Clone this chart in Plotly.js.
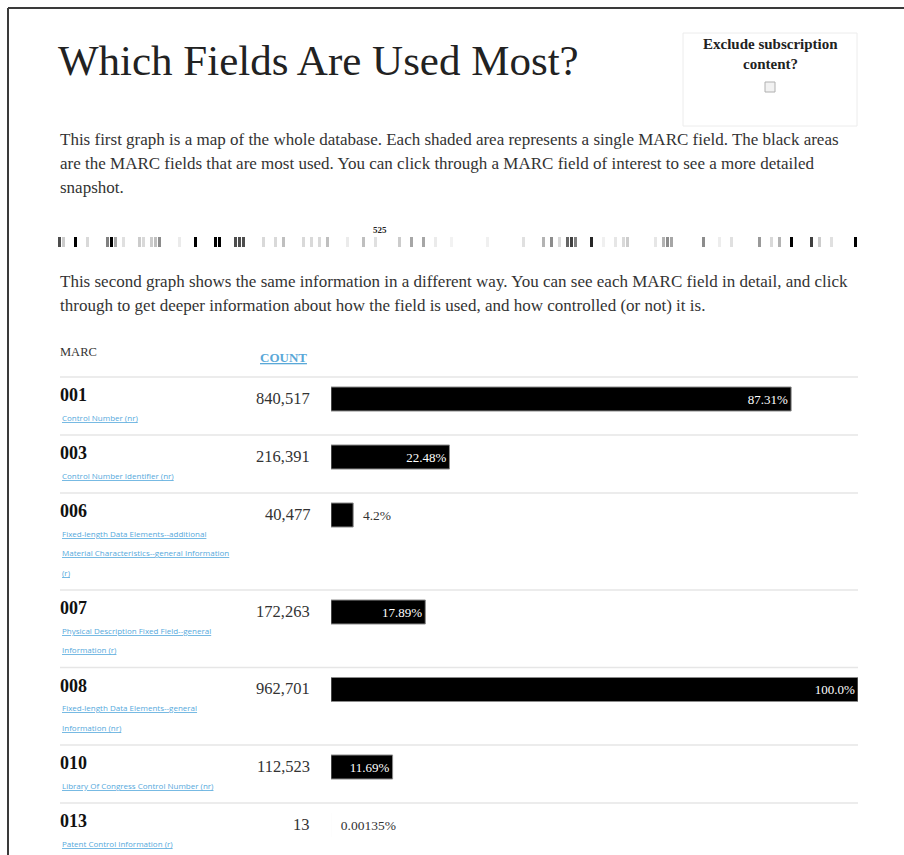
<!DOCTYPE html>
<html><head><meta charset="utf-8">
<script src="https://cdn.plot.ly/plotly-3.0.1.min.js"></script>
<style>html,body{margin:0;padding:0;background:#fff;} #chart{width:904px;height:855px;}</style>
</head><body><div id="chart"></div>
<script>
// ---------- data ----------
const pageTitle = 'Which Fields Are Used Most?';
const introLines = [
  'This first graph is a map of the whole database. Each shaded area represents a single MARC field. The black areas',
  'are the MARC fields that are most used. You can click through a MARC field of interest to see a more detailed',
  'snapshot.'
];
const secondLines = [
  'This second graph shows the same information in a different way. You can see each MARC field in detail, and click',
  'through to get deeper information about how the field is used, and how controlled (or not) it is.'
];
const filterLabel = ['Exclude subscription', 'content?'];
const stripHoverLabel = '525';
const stripCellCount = 200;
const stripCells  = [0, 1, 4, 7, 12, 13, 14, 16, 20, 21, 23, 24, 25, 30, 34, 39, 40, 44, 45, 46,
                     51, 54, 56, 61, 63, 65, 67, 72, 76, 79, 85, 88, 91, 94, 98, 107, 116, 121, 123, 125,
                     127, 128, 129, 133, 136, 139, 141, 142, 149, 151, 152, 153, 161, 165, 168, 175, 178, 180, 183, 188,
                     190, 193, 199];
const stripShades = [0.7, 0.2, 1.0, 0.15, 0.5, 1.0, 0.35, 0.12, 0.2, 0.15, 0.2, 0.25, 0.45, 0.08, 1.0, 1.0, 1.0, 0.7, 0.7, 0.7,
                     0.15, 0.15, 0.25, 0.15, 0.15, 0.15, 0.25, 0.08, 0.25, 0.12, 0.2, 0.35, 0.35, 0.08, 0.05, 0.06, 0.12, 0.3, 0.45, 0.15,
                     0.6, 0.75, 0.5, 0.85, 0.06, 0.1, 0.15, 0.2, 0.1, 0.3, 0.45, 0.35, 0.45, 0.07, 0.12, 0.4, 0.15, 0.3, 1.0, 0.75,
                     0.2, 0.12, 1.0];
const headerMarc = 'MARC';
const headerCount = 'COUNT';
const codes = ['001', '003', '006', '007', '008', '010', '013'];
const names = [
  'Control Number (nr)',
  'Control Number Identifier (nr)',
  'Fixed-length Data Elements--additional Material Characteristics--general Information (r)',
  'Physical Description Fixed Field--general Information (r)',
  'Fixed-length Data Elements--general Information (nr)',
  'Library Of Congress Control Number (nr)',
  'Patent Control Information (r)'
];
const counts = [840517, 216391, 40477, 172263, 962701, 112523, 13];
const pctLabels = ['87.31%', '22.48%', '4.2%', '17.89%', '100.0%', '11.69%', '0.00135%'];

// ---------- layout helpers ----------
const W = 904, H = 855;
const px = x => x / W;
const serif = '"Liberation Serif", "DejaVu Serif", serif';
const sans = '"Open Sans", "DejaVu Sans", sans-serif';
const linkBlue = '#55a9dc';

function wrap(text, maxChars) {
  const words = text.split(' ');
  const lines = [];
  let cur = '';
  words.forEach(w => {
    const next = cur ? cur + ' ' + w : w;
    if (next.length > maxChars && cur) { lines.push(cur); cur = w; } else { cur = next; }
  });
  if (cur) lines.push(cur);
  return lines;
}

const wrapped = names.map(n => wrap(n, 45));
const rowTops = [];
let rowCursor = 377;
wrapped.forEach(lines => { rowTops.push(rowCursor); rowCursor += 58 + 19.5 * (lines.length - 1); });
const barY = rowTops.map(t => t + 22);
const maxCount = Math.max(...counts);
const isInside = counts.map(c => c / maxCount > 0.08);

// strip z built from sparse cells
const stripZ = new Array(stripCellCount).fill(0);
stripCells.forEach((c, i) => { stripZ[c] = stripShades[i]; });

// ---------- traces ----------
const barTrace = {
  type: 'bar', orientation: 'h',
  x: counts, y: barY, width: 24,
  marker: { color: '#000', line: { color: '#8a8a8a', width: counts.map(c => (c / maxCount > 0.001 ? 1 : 0)) } },
  text: pctLabels.map((t, i) => (isInside[i] ? t : '\u2002' + t)),
  textposition: isInside.map(v => (v ? 'inside' : 'outside')),
  insidetextanchor: 'end',
  textangle: 0,
  insidetextfont: { family: serif, size: 13, color: '#ffffff' },
  outsidetextfont: { family: serif, size: 13.5, color: '#333333' },
  cliponaxis: false, hoverinfo: 'skip',
  xaxis: 'x', yaxis: 'y'
};

const stripTrace = {
  type: 'heatmap', z: [stripZ],
  colorscale: [[0, '#ffffff'], [1, '#000000']], zmin: 0, zmax: 1,
  showscale: false, xgap: 1, hoverinfo: 'skip',
  xaxis: 'x2', yaxis: 'y2'
};

// ---------- annotations ----------
const ann = [];
function txt(text, x, y, opts) {
  ann.push(Object.assign({
    text: text, x: px(x), y: y, xref: 'paper', yref: 'y',
    xanchor: 'left', yanchor: 'middle', showarrow: false,
    font: { family: serif, size: 17, color: '#333' }
  }, opts || {}));
}
introLines.forEach((l, i) => txt(l, 58, 139 + 24 * i));
secondLines.forEach((l, i) => txt(l, 58, 281 + 24 * i));
filterLabel.forEach((l, i) => txt('<b>' + l + '</b>', 770, 44 + 20 * i,
  { xanchor: 'center', font: { family: serif, size: 15, color: '#222' } }));
txt('<b>' + stripHoverLabel + '</b>', 380, 230, { xanchor: 'center', font: { family: serif, size: 9, color: '#222' } });
txt(headerMarc, 58, 352, { font: { family: serif, size: 12.5, color: '#333' } });
txt('<u><b>' + headerCount + '</b></u>', 283, 357, { xanchor: 'center', font: { family: serif, size: 13, color: '#5aa8d8' } });

codes.forEach((c, i) => {
  const s = rowTops[i];
  txt('<b>' + c + '</b>', 58, s + 18, { font: { family: serif, size: 18, color: '#111' } });
  wrapped[i].forEach((l, k) => txt('<u>' + l + '</u>', 60, s + 40 + 19.5 * k,
    { font: { family: sans, size: 8, color: linkBlue } }));
  txt(counts[i].toLocaleString('en-US'), 312, s + 21,
    { xanchor: 'right', font: { family: serif, size: 16.5, color: '#333' } });
});

// ---------- shapes ----------
const shapes = [
  { type: 'line', xref: 'paper', yref: 'y', x0: px(8), x1: px(8), y0: 8, y1: H, line: { color: '#3a3a3a', width: 2 } },
  { type: 'line', xref: 'paper', yref: 'y', x0: px(8), x1: 1, y0: 8, y1: 8, line: { color: '#3a3a3a', width: 2 } },
  { type: 'rect', xref: 'paper', yref: 'y', x0: px(683), x1: px(857), y0: 33, y1: 126, line: { color: '#ececec', width: 1 } },
  { type: 'rect', xref: 'paper', yref: 'y', x0: px(765), x1: px(775), y0: 82, y1: 92, line: { color: '#b0b0b0', width: 1 }, fillcolor: '#f2f2f2' }
];
rowTops.forEach(t => shapes.push({
  type: 'line', xref: 'paper', yref: 'y', x0: px(60), x1: px(858), y0: t, y1: t,
  layer: 'below', line: { color: '#e6e6e6', width: 1.5 }
}));

const layout = {
  width: W, height: H,
  margin: { l: 0, r: 0, t: 0, b: 0, pad: 0 },
  paper_bgcolor: '#ffffff', plot_bgcolor: 'rgba(0,0,0,0)',
  showlegend: false,
  title: { text: pageTitle, x: px(58), xanchor: 'left', xref: 'paper', y: 1 - 60 / H, yanchor: 'middle', yref: 'container',
           font: { family: serif, size: 43, color: '#222' } },
  xaxis: { domain: [px(331), px(858)], range: [0, maxCount], visible: false, fixedrange: true },
  yaxis: { domain: [0, 1], range: [H, 0], visible: false, fixedrange: true },
  xaxis2: { domain: [px(58), px(858)], range: [-0.5, stripCellCount - 0.5], visible: false, anchor: 'y2' },
  yaxis2: { domain: [(H - 247) / H, (H - 237) / H], range: [-0.5, 0.5], visible: false, anchor: 'x2' },
  annotations: ann,
  shapes: shapes
};

Plotly.newPlot('chart', [stripTrace, barTrace], layout, { displayModeBar: false, staticPlot: true });
</script>
</body></html>
